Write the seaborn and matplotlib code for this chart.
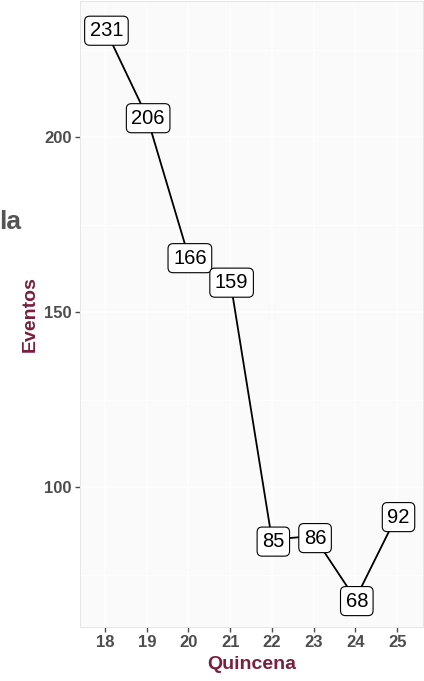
import matplotlib
matplotlib.use("Agg")
import matplotlib.pyplot as plt
import seaborn as sns
import pandas as pd
from matplotlib.ticker import MultipleLocator

# data
quincena = [18, 19, 20, 21, 22, 23, 24, 25]
eventos  = [231, 206, 166, 159, 85, 86, 68, 92]

df = pd.DataFrame({"Quincena": quincena, "Eventos": eventos})

sns.set_theme(style="whitegrid")
plt.rcParams["font.family"] = ["Liberation Sans", "DejaVu Sans"]

TICK = "#4D4D4D"
TITLE = "#7A1F3D"

fig = plt.figure(figsize=(4.24, 6.81), dpi=100)
ax = fig.add_axes([80/424, 1 - 627/681, 343/424, 626/681])
ax.set_facecolor("#FAFAFA")

sns.lineplot(data=df, x="Quincena", y="Eventos", color="black", lw=1.3, ax=ax, zorder=2)

for x, y in zip(quincena, eventos):
    ax.annotate(str(y), (x, y), xytext=(1, -1.5), textcoords="offset points",
                ha="center", va="center", fontsize=14.5, color="black", zorder=3,
                bbox=dict(boxstyle="round,pad=0.25,rounding_size=0.25", fc="white",
                          ec="black", lw=0.8))

ax.set_xlim(17.4, 25.62)
ax.set_ylim(60, 238.9)
ax.set_xticks(quincena)
ax.yaxis.set_major_locator(MultipleLocator(50))
ax.yaxis.set_minor_locator(MultipleLocator(25))
ax.grid(which="major", color="white", lw=1.1)
ax.grid(which="minor", axis="y", color="white", lw=0.6)
ax.grid(which="minor", axis="x", visible=False)
for s in ax.spines.values():
    s.set_color("#E6E6E6")
    s.set_linewidth(0.7)

ax.tick_params(axis="both", which="major", length=3.5, width=1, color=TICK,
               labelsize=12, labelcolor=TICK, pad=2.5, bottom=True, left=True)
ax.tick_params(axis="both", which="minor", length=0)
for lab in ax.get_xticklabels() + ax.get_yticklabels():
    lab.set_fontweight("bold")

ax.set_xlabel("Quincena", fontsize=14, fontweight="bold", color=TITLE, labelpad=4)
ax.set_ylabel("Eventos", fontsize=14, fontweight="bold", color=TITLE, labelpad=4)

# stray cut-off title fragment at left edge
fig.text(-1/424, 1 - 222/681, "la", fontsize=19, fontweight="bold", color="#555555",
         ha="left", va="center")

fig.savefig("out.png", dpi=100)
